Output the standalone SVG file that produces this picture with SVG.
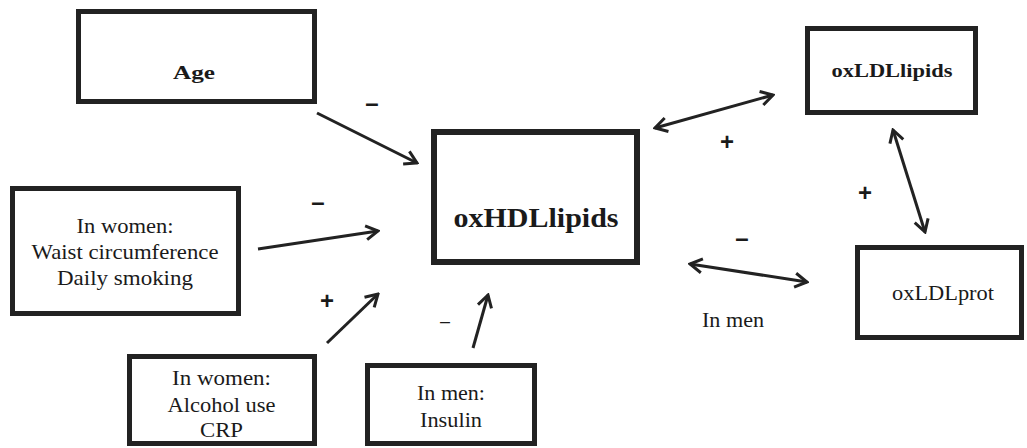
<svg xmlns="http://www.w3.org/2000/svg" width="1027" height="448" viewBox="0 0 1027 448">
<style>
.box{fill:#fff;stroke:#222;stroke-width:5}
.t{font-family:"Liberation Serif","Times New Roman",serif;fill:#1a1a1a;text-anchor:middle;font-size:22px}
.b{font-weight:bold}
.c{fill:none;stroke:#222;stroke-width:3}
.s{font-family:"Liberation Sans",Arial,sans-serif;font-weight:bold;font-size:24px;fill:#1a1a1a;text-anchor:middle}
</style>
<defs>
<marker id="ah" viewBox="-15 -10 17 20" markerWidth="17" markerHeight="20" refX="0" refY="0" orient="auto-start-reverse" markerUnits="userSpaceOnUse">
<path d="M-12,-7 L0,0 L-12,7" fill="none" stroke="#222" stroke-width="3"/>
</marker>
</defs>
<rect width="1027" height="448" fill="#fff"/>
<g id="age">
<rect class="box" x="78.5" y="11.5" width="236" height="90"/>
<text class="t b" x="194" y="79" style="font-size:19px" textLength="42" lengthAdjust="spacingAndGlyphs">Age</text>
</g>
<g id="women1">
<rect class="box" x="12.5" y="188.5" width="226" height="125"/>
<text class="t" x="125" y="233" textLength="97" lengthAdjust="spacingAndGlyphs">In women:</text>
<text class="t" x="125" y="259" textLength="187" lengthAdjust="spacingAndGlyphs">Waist circumference</text>
<text class="t" x="125" y="285" textLength="136" lengthAdjust="spacingAndGlyphs">Daily smoking</text>
</g>
<g id="women2">
<rect class="box" x="129.5" y="356.5" width="185" height="87"/>
<text class="t" x="221.5" y="385" textLength="99" lengthAdjust="spacingAndGlyphs">In women:</text>
<text class="t" x="221.5" y="412" textLength="108" lengthAdjust="spacingAndGlyphs">Alcohol use</text>
<text class="t" x="221.5" y="437" textLength="43" lengthAdjust="spacingAndGlyphs">CRP</text>
</g>
<g id="men">
<rect class="box" x="367.5" y="365.5" width="167" height="78"/>
<text class="t" x="451" y="400" style="font-size:21px" textLength="68" lengthAdjust="spacingAndGlyphs">In men:</text>
<text class="t" x="451" y="427" style="font-size:21px" textLength="62" lengthAdjust="spacingAndGlyphs">Insulin</text>
</g>
<g id="oxhdl">
<rect class="box" x="434" y="132" width="203" height="130" style="stroke-width:6"/>
<text class="t b" x="536" y="227" style="font-size:28px" textLength="165" lengthAdjust="spacingAndGlyphs">oxHDLlipids</text>
</g>
<g id="oxldllipids">
<rect class="box" x="807.5" y="28.5" width="168" height="84"/>
<text class="t b" x="892" y="77" style="font-size:19px" textLength="121" lengthAdjust="spacingAndGlyphs">oxLDLlipids</text>
</g>
<g id="oxldlprot">
<rect class="box" x="857.5" y="247.5" width="164" height="90"/>
<text class="t" x="943" y="300" style="font-size:20px" textLength="102" lengthAdjust="spacingAndGlyphs">oxLDLprot</text>
</g>
<g id="connectors">
<line class="c" x1="317" y1="113" x2="417" y2="163" marker-end="url(#ah)"/>
<line class="c" x1="258" y1="249" x2="378" y2="231" marker-end="url(#ah)"/>
<line class="c" x1="327" y1="343" x2="378" y2="294" marker-end="url(#ah)"/>
<line class="c" x1="473" y1="348" x2="488" y2="295" marker-end="url(#ah)"/>
<line class="c" x1="655" y1="128" x2="773" y2="95" marker-start="url(#ah)" marker-end="url(#ah)"/>
<line class="c" x1="893" y1="130" x2="925" y2="232" marker-start="url(#ah)" marker-end="url(#ah)"/>
<line class="c" x1="690" y1="264" x2="807" y2="282" marker-start="url(#ah)" marker-end="url(#ah)"/>
</g>
<g id="signs">
<text class="s" x="372" y="111">–</text>
<text class="s" x="318" y="210">–</text>
<text class="s" x="327" y="309">+</text>
<text class="s" x="445" y="327" style="font-weight:normal;font-size:18px">–</text>
<text class="s" x="727" y="150">+</text>
<text class="s" x="865" y="201">+</text>
<text class="s" x="742" y="246">–</text>
<text class="t" x="733" y="327" textLength="62" lengthAdjust="spacingAndGlyphs">In men</text>
</g>
</svg>
